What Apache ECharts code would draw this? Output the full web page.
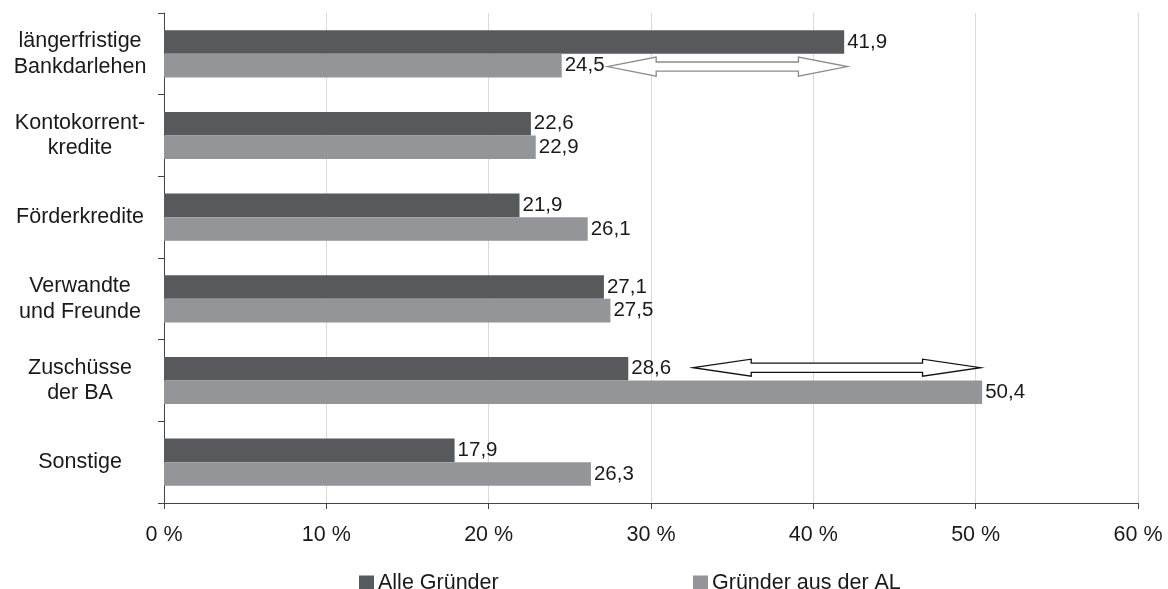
<!DOCTYPE html>
<html>
<head>
<meta charset="utf-8">
<script src="https://cdn.jsdelivr.net/npm/echarts@6/dist/echarts.min.js"></script>
<style>
  html, body { margin: 0; padding: 0; background: #fff; }
  #chart { width: 1168px; height: 589px; }
</style>
</head>
<body>
<div id="chart"></div>
<script>
// Finanzierungsquellen von Gründern (Anteile in %)
const categories = [
  'längerfristige\nBankdarlehen',
  'Kontokorrent-\nkredite',
  'Förderkredite',
  'Verwandte\nund Freunde',
  'Zuschüsse\nder BA',
  'Sonstige'
];
const seriesNames = ['Alle Gründer', 'Gründer aus der AL'];
const alleGruender = [41.9, 22.6, 21.9, 27.1, 28.6, 17.9];
const gruenderAusAL = [24.5, 22.9, 26.1, 27.5, 50.4, 26.3];
const xTicks = [0, 10, 20, 30, 40, 50, 60];

// Doppelpfeile zur Hervorhebung der Differenz: [von %, bis %, Kategorie, Balken (0 = dunkel, 1 = hell)]
const arrows = [
  [27.3, 42.1, 0, 1],
  [32.6, 50.3, 4, 0]
];
const arrowStroke = ['#8c8c8c', '#111'];

const DARK = '#58595b';
const LIGHT = '#939598';
const FONT = 'Liberation Sans, Arial, sans-serif';
const TEXT = '#1a1a1a';

const fmt = v => String(v).replace('.', ',');

const chart = echarts.init(document.getElementById('chart'), null, { renderer: 'canvas' });

function renderArrow(params, api) {
  const x1 = api.value(0), x2 = api.value(1), cat = api.value(2), slot = api.value(3);
  const p1 = api.coord([x1, cat]);
  const p2 = api.coord([x2, cat]);
  const band = api.size([0, 1])[1];
  const barW = band * (1 - 0.423) / 2;
  const y = p1[1] + (slot === 0 ? -barW / 2 : barW / 2) + (slot === 0 ? -1 : 1);
  const a = p1[0], b = p2[0];
  const h = params.dataIndex === 0 ? 49 : 58;
  const H = params.dataIndex === 0 ? 9.5 : 8.5;
  const s = 4.6;
  const pts = [
    [a, y], [a + h, y - H], [a + h, y - s], [b - h, y - s], [b - h, y - H],
    [b, y], [b - h, y + H], [b - h, y + s], [a + h, y + s], [a + h, y + H]
  ];
  return {
    type: 'polygon',
    shape: { points: pts },
    style: { fill: '#fff', stroke: arrowStroke[params.dataIndex], lineWidth: 1.3 }
  };
}

const labelCfg = {
  show: true,
  position: 'right',
  distance: 3,
  color: TEXT,
  fontSize: 20.5,
  fontFamily: FONT,
  formatter: p => fmt(p.value)
};

const legendText = { fontSize: 21.5, fontFamily: FONT, color: TEXT, padding: [0, 0, 0, -1] };

chart.setOption({
  animation: false,
  backgroundColor: '#fff',
  grid: { left: 164, right: 30, top: 13, bottom: 86, containLabel: false },
  legend: [
    {
      data: [seriesNames[0]], left: 354, top: 567, itemWidth: 15, itemHeight: 15, itemGap: 0,
      icon: 'rect', textStyle: legendText
    },
    {
      data: [seriesNames[1]], left: 688, top: 567, itemWidth: 15, itemHeight: 15, itemGap: 0,
      icon: 'rect', textStyle: legendText
    }
  ],
  xAxis: {
    type: 'value',
    min: xTicks[0],
    max: xTicks[xTicks.length - 1],
    interval: 10,
    axisLine: { show: true, lineStyle: { color: '#444', width: 1 } },
    axisTick: { show: true, length: 6, lineStyle: { color: '#444' } },
    axisLabel: {
      margin: 21, fontSize: 21.5, fontFamily: FONT, color: TEXT,
      formatter: v => v + ' %'
    },
    splitLine: { show: true, lineStyle: { color: '#d9d9d9', width: 1 } }
  },
  yAxis: {
    type: 'category',
    data: categories,
    inverse: true,
    axisLine: { show: true, lineStyle: { color: '#444', width: 1 } },
    axisTick: { show: true, length: 6, alignWithLabel: false, lineStyle: { color: '#444' } },
    axisLabel: {
      margin: 84, align: 'center', fontSize: 21.5, lineHeight: 25.5,
      fontFamily: FONT, color: TEXT
    },
    splitLine: { show: false }
  },
  series: [
    {
      name: seriesNames[0], type: 'bar', data: alleGruender,
      itemStyle: { color: DARK }, barGap: '0%', barCategoryGap: '42.3%',
      label: labelCfg
    },
    {
      name: seriesNames[1], type: 'bar', data: gruenderAusAL,
      itemStyle: { color: LIGHT }, barGap: '0%', barCategoryGap: '42.3%',
      label: labelCfg
    },
    {
      type: 'custom', name: 'Differenz', data: arrows,
      renderItem: renderArrow, silent: true, z: 5,
      encode: { x: [0, 1], y: 2 }
    }
  ]
});
</script>
</body>
</html>
